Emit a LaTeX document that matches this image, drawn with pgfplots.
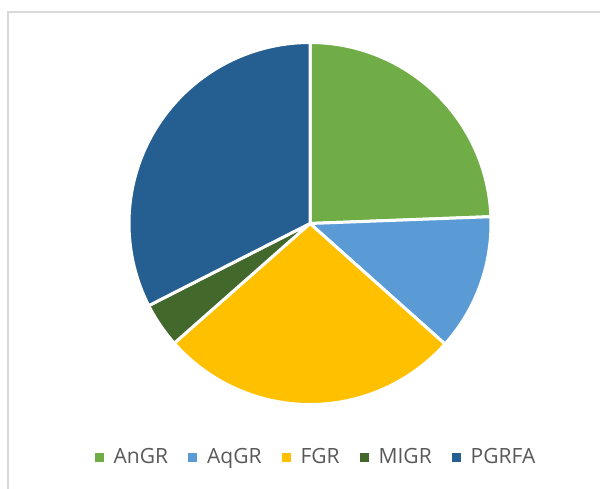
\documentclass[border=0pt]{standalone}
\usepackage{pgfplots}
\pgfplotsset{compat=1.18}
\usepackage{pgfplotstable}
\usepackage{fontspec}
\setmainfont{Open Sans}

\definecolor{slice0}{RGB}{112,173,71}
\definecolor{slice1}{RGB}{91,155,213}
\definecolor{slice2}{RGB}{255,192,0}
\definecolor{slice3}{RGB}{67,104,43}
\definecolor{slice4}{RGB}{37,94,145}
\definecolor{legtext}{RGB}{89,89,89}
\definecolor{frame}{RGB}{217,217,217}

% share of each group, percent
\pgfplotstableread{
name value
AnGR 24.4
AqGR 12.2
FGR 26.9
MIGR 4.0
PGRFA 32.5
}\piedata

\begin{document}
\begin{tikzpicture}
\begin{axis}[
  name=pie,
  x=1pt, y=1pt,
  xmin=0, xmax=600, ymin=0, ymax=488,
  hide axis, clip=false,
  legend columns=5,
  legend image code/.code={\fill[#1, draw=none] (0pt,-4.5pt) rectangle (9pt,4.5pt);},
  legend style={at={(axis cs:315,31)}, anchor=center, draw=none, fill=none,
    font=\fontsize{21}{25}\selectfont, text=legtext,
    nodes={inner sep=0pt},
    /tikz/every odd column/.append style={column sep=10pt},
    /tikz/every even column/.append style={column sep=20pt}},
]
\pgfmathsetmacro{\cum}{0}
\pgfplotsforeachungrouped \i in {0,...,4}{%
  \pgfplotstablegetelem{\i}{value}\of\piedata
  \let\val\pgfplotsretval
  \pgfmathsetmacro{\angA}{90-3.6*\cum}
  \pgfmathsetmacro{\angB}{90-3.6*(\cum+\val)}
  \pgfmathsetmacro{\cum}{\cum+\val}
  \pgfplotstablegetelem{\i}{name}\of\piedata
  \let\nm\pgfplotsretval
  \edef\doplot{\noexpand\addplot[fill=slice\i, draw=white, line width=3pt,
      line join=round, domain=\angB:\angA, samples=90]
    ({310+181*cos(x)},{264.5+181*sin(x)}) -- (axis cs:310,264.5) -- cycle;
    \noexpand\addlegendentry{\nm}}%
  \doplot
}
\draw[frame, line width=1.5pt] (axis cs:8,-20) -- (axis cs:8,476) -- (axis cs:620,476);
\end{axis}
\pgfresetboundingbox
\path[use as bounding box] (pie.south west) rectangle (pie.north east);
\end{tikzpicture}
\end{document}
